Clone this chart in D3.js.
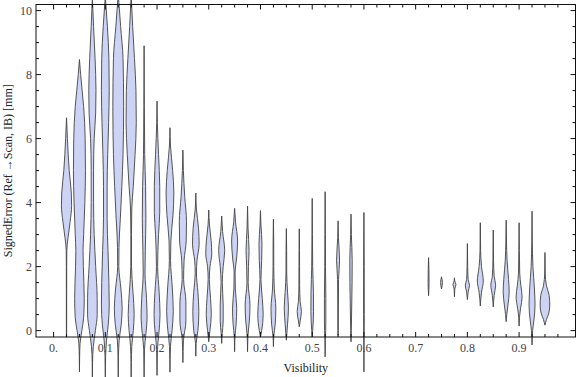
<!DOCTYPE html>
<html>
<head>
<meta charset="utf-8">
<script src="https://cdn.jsdelivr.net/npm/d3@7"></script>
<style>
  body { margin: 0; background: #fff; }
  svg { display: block; }
</style>
</head>
<body>
<div class="canvas"></div>
<script>
const width = 576
const height = 377
const labelFont = 'Liberation Serif'
const fontColor = '#444'

// visibility bin of every violin
const visibility = [
  0.025, 0.05, 0.075, 0.1, 0.125, 0.15, 0.175, 0.2, 0.225, 0.25,
  0.275, 0.3, 0.325, 0.35, 0.375, 0.4, 0.425, 0.45, 0.475, 0.5,
  0.525, 0.55, 0.575, 0.6,
  0.725, 0.75, 0.775, 0.8, 0.825, 0.85, 0.875, 0.9, 0.925, 0.95
]

// density outline of every violin: [signed error (mm), relative density], top to bottom
const profiles = [
  [[6.65,0],[6.0,0.15],[5.0,0.45],[4.3,0.8],[3.9,0.85],[3.4,0.6],[2.9,0.25],[2.5,0.05],[2.0,0.03],[-0.2,0.02]],
  [[8.47,0],[8.0,0.2],[7.5,0.45],[7.0,0.7],[6.0,0.95],[5.0,1.0],[4.0,0.9],[3.0,0.7],[2.5,0.6],[2.0,0.65],[1.0,0.8],[0.4,0.7],[0.0,0.4],[-0.4,0.1],[-0.8,0.03],[-1.29,0]],
  [[10.4,0],[9.5,0.2],[8.5,0.45],[7.5,0.6],[6.8,0.55],[6.0,0.3],[5.0,0.2],[4.0,0.2],[3.0,0.3],[2.0,0.55],[1.0,0.8],[0.5,0.8],[0.0,0.5],[-0.5,0.15],[-1.0,0.03],[-1.5,0]],
  [[10.4,0.02],[9.5,0.35],[8.5,0.6],[7.5,0.65],[6.5,0.55],[5.5,0.4],[4.5,0.3],[3.5,0.3],[2.5,0.45],[1.5,0.6],[0.8,0.65],[0.2,0.5],[-0.3,0.2],[-0.8,0.05],[-1.5,0]],
  [[10.4,0.05],[9.5,0.4],[8.5,0.8],[7.0,0.9],[5.5,0.8],[4.5,0.6],[3.5,0.35],[2.6,0.12],[2.0,0.1],[1.3,0.45],[0.7,0.65],[0.2,0.5],[-0.3,0.15],[-0.8,0.04],[-1.5,0]],
  [[10.4,0.02],[9.5,0.25],[8.5,0.55],[7.5,0.8],[6.5,0.85],[5.5,0.65],[4.5,0.35],[3.8,0.1],[3.0,0.05],[2.0,0.06],[1.2,0.3],[0.5,0.5],[0.0,0.35],[-0.5,0.1],[-1.0,0.03],[-1.5,0]],
  [[8.9,0],[7.0,0.04],[5.5,0.1],[4.5,0.25],[3.5,0.3],[2.5,0.2],[1.8,0.15],[1.0,0.4],[0.4,0.5],[-0.1,0.3],[-0.6,0.06],[-1.5,0]],
  [[7.17,0],[6.5,0.05],[5.5,0.25],[4.5,0.45],[3.7,0.45],[3.0,0.25],[2.0,0.1],[1.2,0.35],[0.5,0.5],[-0.1,0.3],[-0.6,0.06],[-1.4,0]],
  [[6.34,0],[5.8,0.08],[5.0,0.45],[4.3,0.65],[3.6,0.5],[2.8,0.15],[2.2,0.1],[1.3,0.4],[0.6,0.55],[0.0,0.35],[-0.5,0.08],[-1.3,0]],
  [[5.64,0],[5.0,0.08],[4.2,0.3],[3.4,0.6],[2.8,0.55],[2.2,0.2],[1.6,0.12],[0.9,0.5],[0.3,0.5],[-0.3,0.1],[-1.0,0]],
  [[4.3,0],[3.8,0.1],[3.2,0.45],[2.7,0.55],[2.2,0.2],[1.8,0.1],[1.2,0.35],[0.6,0.5],[0.0,0.35],[-0.4,0.05],[-0.8,0]],
  [[3.77,0],[3.3,0.12],[2.8,0.4],[2.4,0.5],[2.0,0.2],[1.6,0.1],[1.0,0.3],[0.5,0.42],[0.0,0.2],[-0.35,0]],
  [[3.58,0],[3.1,0.15],[2.5,0.5],[2.0,0.25],[1.5,0.1],[0.8,0.25],[0.3,0.25],[-0.1,0.08],[-0.4,0]],
  [[3.82,0],[3.4,0.15],[2.8,0.5],[2.3,0.35],[1.8,0.08],[1.3,0.12],[0.7,0.35],[0.2,0.25],[-0.2,0.05],[-0.66,0]],
  [[3.89,0],[3.2,0.08],[2.5,0.25],[2.0,0.15],[1.5,0.1],[0.8,0.4],[0.3,0.3],[-0.2,0.05],[-0.66,0]],
  [[3.75,0],[3.3,0.08],[2.7,0.25],[2.2,0.2],[1.6,0.08],[1.0,0.3],[0.5,0.45],[0.0,0.2],[-0.2,0]],
  [[3.48,0],[2.8,0.05],[2.0,0.06],[1.3,0.15],[0.7,0.4],[0.2,0.3],[-0.2,0.05],[-0.5,0]],
  [[3.19,0],[2.5,0.05],[1.8,0.06],[1.2,0.2],[0.7,0.35],[0.2,0.2],[-0.3,0]],
  [[3.18,0],[2.5,0.04],[2.0,0.05],[1.4,0.06],[0.9,0.15],[0.6,0.35],[0.3,0.15],[0.12,0]],
  [[4.13,0],[3.0,0.04],[2.0,0.08],[1.2,0.2],[0.6,0.22],[0.0,0.08],[-0.2,0]],
  [[4.34,0],[3.0,0.04],[2.0,0.06],[1.0,0.12],[0.3,0.12],[-0.3,0.04],[-0.82,0]],
  [[3.43,0],[2.9,0.06],[2.2,0.25],[1.6,0.08],[0.8,0.05],[0.0,0.04],[-0.15,0]],
  [[3.64,0],[3.0,0.06],[2.2,0.2],[1.5,0.18],[0.8,0.12],[0.0,0.05],[-0.35,0]],
  [[3.69,0],[2.0,0.05],[0.5,0.06],[-0.5,0.03],[-1.29,0]],
  [[2.28,0],[1.9,0.06],[1.5,0.08],[1.09,0]],
  [[1.68,0],[1.5,0.15],[1.3,0]],
  [[1.65,0],[1.55,0.05],[1.44,0.25],[1.3,0.05],[1.06,0]],
  [[2.72,0],[2.0,0.05],[1.6,0.12],[1.42,0.35],[1.2,0.12],[0.97,0]],
  [[3.37,0],[2.5,0.05],[2.0,0.2],[1.55,0.5],[1.2,0.2],[0.77,0]],
  [[3.14,0],[2.2,0.05],[1.7,0.15],[1.42,0.4],[1.1,0.15],[0.74,0]],
  [[3.45,0],[2.8,0.05],[2.2,0.15],[1.6,0.4],[1.2,0.5],[0.8,0.3],[0.5,0.1],[0.28,0]],
  [[3.37,0],[2.5,0.04],[1.8,0.1],[1.4,0.3],[1.05,0.5],[0.7,0.25],[0.4,0.06],[0.14,0]],
  [[3.73,0],[2.8,0.04],[2.0,0.15],[1.3,0.4],[0.8,0.5],[0.3,0.3],[0.0,0.1],[-0.45,0]],
  [[2.44,0],[1.8,0.04],[1.4,0.25],[1.1,0.7],[0.8,0.8],[0.55,0.65],[0.35,0.25],[0.17,0]]
]

// tick values
const xMajor = [0, 0.1, 0.2, 0.3, 0.4, 0.5, 0.6, 0.7, 0.8, 0.9]
const xMinor = d3.range(0, 40).map(i => i * 0.025).filter((d, i) => i % 4 !== 0)
const yMajor = [0, 2, 4, 6, 8, 10]
const yMinor = d3.range(0, 21).map(i => i * 0.5).filter((d, i) => i % 4 !== 0)

const svg = d3.select('.canvas')
        .append('svg')
        .attr('width', width)
        .attr('height', height)
        .attr('viewBox', `0 0 ${width} ${height}`)

const plotLeft = 36, plotRight = 575.5, plotTop = 4.5, plotBottom = 337

const x = d3.scaleLinear().domain([-0.034, 1.01]).range([plotLeft, 576])
const y = d3.scaleLinear().domain([-0.2, 10.19]).range([plotBottom, plotTop])
const w = d3.scaleLinear().domain([0, 1]).range([0, 6])

const area = d3.area()
    .y(d => y(d[0]))
    .x0(d => -w(d[1]))
    .x1(d => w(d[1]))
    .curve(d3.curveMonotoneY)

// *violins
const graph = svg.append('g')

graph.selectAll('path.violin')
    .data(visibility.map((v, i) => ({v: v, profile: profiles[i]})))
    .enter()
    .append('path')
    .attr('class', 'violin')
    .attr('transform', d => `translate(${x(d.v)}, 0)`)
    .attr('d', d => area(d.profile))
    .attr('fill', '#cdd3f5')
    .attr('stroke', '#444')
    .attr('stroke-opacity', 0.9)
    .attr('stroke-width', 1)

// *frame
const frame = svg.append('g')
    .attr('stroke', '#111')
    .attr('stroke-width', 1)

frame.append('rect')
    .attr('x', plotLeft)
    .attr('y', plotTop)
    .attr('width', plotRight - plotLeft)
    .attr('height', plotBottom - plotTop)
    .attr('fill', 'none')

xMajor.concat(xMinor).forEach(d => {
    const len = xMajor.includes(d) ? 5 : 3
    frame.append('line').attr('x1', x(d)).attr('x2', x(d)).attr('y1', plotBottom).attr('y2', plotBottom - len)
    frame.append('line').attr('x1', x(d)).attr('x2', x(d)).attr('y1', plotTop).attr('y2', plotTop + len)
})

yMajor.concat(yMinor).forEach(d => {
    const len = yMajor.includes(d) ? 5 : 3
    frame.append('line').attr('y1', y(d)).attr('y2', y(d)).attr('x1', plotLeft).attr('x2', plotLeft + len)
    frame.append('line').attr('y1', y(d)).attr('y2', y(d)).attr('x1', plotRight).attr('x2', plotRight - len)
})

// *tick labels
svg.selectAll('.xlabel')
    .data(xMajor)
    .enter()
    .append('text')
    .attr('class', 'xlabel')
    .attr('x', d => x(d))
    .attr('y', 352)
    .attr('text-anchor', 'middle')
    .attr('font-family', labelFont)
    .attr('font-size', 12)
    .attr('fill', fontColor)
    .text(d => d === 0 ? '0.' : d3.format('.1f')(d))

svg.selectAll('.ylabel')
    .data(yMajor)
    .enter()
    .append('text')
    .attr('class', 'ylabel')
    .attr('x', 32)
    .attr('y', d => y(d))
    .attr('dy', '0.35em')
    .attr('text-anchor', 'end')
    .attr('font-family', labelFont)
    .attr('font-size', 12)
    .attr('fill', fontColor)
    .text(d => d)

// *axis titles
svg.append('text')
    .attr('x', (plotLeft + plotRight) / 2)
    .attr('y', 372)
    .attr('text-anchor', 'middle')
    .attr('font-family', labelFont)
    .attr('font-size', 12)
    .attr('fill', '#222')
    .text('Visibility')

svg.append('text')
    .attr('transform', `translate(12, ${(plotTop + plotBottom) / 2}) rotate(-90)`)
    .attr('text-anchor', 'middle')
    .attr('font-family', labelFont)
    .attr('font-size', 12)
    .attr('fill', '#222')
    .text('SignedError (Ref \u2192Scan, IB) [mm]')
</script>
</body>
</html>
